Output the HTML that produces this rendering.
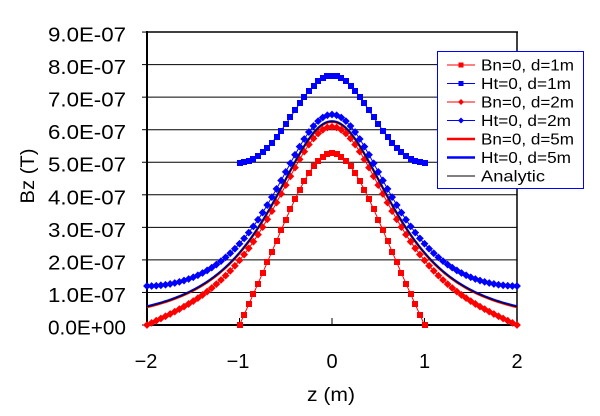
<!DOCTYPE html>
<html>
<head>
<meta charset="utf-8">
<style>
  html, body { margin: 0; padding: 0; background: #ffffff; }
  svg { display: block; }
  text { font-family: "Liberation Sans", "Noto Sans CJK JP", sans-serif; fill: #000; }
</style>
</head>
<body>
<svg id="chart" width="600" height="416" viewBox="0 0 600 416" xmlns="http://www.w3.org/2000/svg">
  <rect x="0" y="0" width="600" height="416" fill="#ffffff"/>

  <!-- gridlines -->
  <g stroke="#000" stroke-width="1">
    <line x1="147" y1="292.45" x2="517" y2="292.45"/>
    <line x1="147" y1="259.9" x2="517" y2="259.9"/>
    <line x1="147" y1="227.35" x2="517" y2="227.35"/>
    <line x1="147" y1="194.8" x2="517" y2="194.8"/>
    <line x1="147" y1="162.25" x2="517" y2="162.25"/>
    <line x1="147" y1="129.7" x2="517" y2="129.7"/>
    <line x1="147" y1="97.15" x2="517" y2="97.15"/>
    <line x1="147" y1="64.6" x2="517" y2="64.6"/>
  </g>

  <!-- plot frame -->
  <g stroke="#000" fill="none">
    <line x1="146" y1="32" x2="518" y2="32" stroke-width="1.5"/>
    <line x1="517" y1="32" x2="517" y2="325" stroke-width="1.5"/>
    <line x1="147" y1="31" x2="147" y2="326" stroke-width="2"/>
    <line x1="146" y1="325" x2="518" y2="325" stroke-width="2"/>
  </g>

  <!-- y ticks (outside left) -->
  <g stroke="#000" stroke-width="1">
    <line x1="142" y1="32.05" x2="147" y2="32.05"/>
    <line x1="142" y1="64.6" x2="147" y2="64.6"/>
    <line x1="142" y1="97.15" x2="147" y2="97.15"/>
    <line x1="142" y1="129.7" x2="147" y2="129.7"/>
    <line x1="142" y1="162.25" x2="147" y2="162.25"/>
    <line x1="142" y1="194.8" x2="147" y2="194.8"/>
    <line x1="142" y1="227.35" x2="147" y2="227.35"/>
    <line x1="142" y1="259.9" x2="147" y2="259.9"/>
    <line x1="142" y1="292.45" x2="147" y2="292.45"/>
    <line x1="142" y1="325" x2="147" y2="325"/>
  </g>
  <!-- x ticks (inside up) -->
  <g stroke="#000" stroke-width="1">
    <line x1="239.5" y1="318" x2="239.5" y2="325"/>
    <line x1="332" y1="318" x2="332" y2="325"/>
    <line x1="424.5" y1="318" x2="424.5" y2="325"/>
  </g>

  <!-- y tick labels -->
  <g font-size="20" text-anchor="end">
    <text x="126" y="41.5" textLength="78" lengthAdjust="spacingAndGlyphs">9.0E-07</text>
    <text x="126" y="74" textLength="78" lengthAdjust="spacingAndGlyphs">8.0E-07</text>
    <text x="126" y="106.6" textLength="78" lengthAdjust="spacingAndGlyphs">7.0E-07</text>
    <text x="126" y="139.2" textLength="78" lengthAdjust="spacingAndGlyphs">6.0E-07</text>
    <text x="126" y="171.7" textLength="78" lengthAdjust="spacingAndGlyphs">5.0E-07</text>
    <text x="126" y="204.3" textLength="78" lengthAdjust="spacingAndGlyphs">4.0E-07</text>
    <text x="126" y="236.8" textLength="78" lengthAdjust="spacingAndGlyphs">3.0E-07</text>
    <text x="126" y="269.4" textLength="78" lengthAdjust="spacingAndGlyphs">2.0E-07</text>
    <text x="126" y="302" textLength="78" lengthAdjust="spacingAndGlyphs">1.0E-07</text>
    <text x="126" y="334.5" textLength="78" lengthAdjust="spacingAndGlyphs">0.0E+00</text>
  </g>

  <!-- x tick labels -->
  <g font-size="20" text-anchor="middle">
    <text x="146" y="368">−2</text>
    <text x="238" y="368">−1</text>
    <text x="332" y="368">0</text>
    <text x="424.5" y="368">1</text>
    <text x="517" y="368">2</text>
  </g>

  <!-- axis titles -->
  <text x="331" y="401" font-size="19" text-anchor="middle" textLength="48" lengthAdjust="spacingAndGlyphs">z (m)</text>
  <text x="34" y="176" font-size="19" text-anchor="middle" textLength="55" lengthAdjust="spacingAndGlyphs" transform="rotate(-90 34 176)">Bz (T)</text>

  <!-- data series (generated) -->
  <g id="series"></g>

  <!-- legend -->
  <rect x="437.5" y="51.5" width="146" height="137" fill="#ffffff" stroke="#0000ff" stroke-width="1"/>
  <g>
    <line x1="447" y1="65" x2="475" y2="65" stroke="#ff0000" stroke-width="1"/>
    <rect x="458.5" y="62.5" width="5" height="5" fill="#ff0000" shape-rendering="crispEdges"/>
    <line x1="447" y1="83.5" x2="475" y2="83.5" stroke="#0000ff" stroke-width="1"/>
    <rect x="458.5" y="81" width="5" height="5" fill="#0000ff" shape-rendering="crispEdges"/>
    <line x1="447" y1="102" x2="475" y2="102" stroke="#ff0000" stroke-width="1"/>
    <polygon points="461,99 464,102 461,105 458,102" fill="#ff0000"/>
    <line x1="447" y1="120.5" x2="475" y2="120.5" stroke="#0000ff" stroke-width="1"/>
    <polygon points="461,117.5 464,120.5 461,123.5 458,120.5" fill="#0000ff"/>
    <line x1="447" y1="139" x2="475" y2="139" stroke="#ff0000" stroke-width="2.5"/>
    <line x1="447" y1="157.5" x2="475" y2="157.5" stroke="#0000ff" stroke-width="2.5"/>
    <line x1="447" y1="176" x2="475" y2="176" stroke="#000000" stroke-width="1"/>
  </g>
  <g font-size="16">
    <text x="481" y="70.7" textLength="93" lengthAdjust="spacingAndGlyphs">Bn=0, d=1m</text>
    <text x="481" y="89.2" textLength="90" lengthAdjust="spacingAndGlyphs">Ht=0, d=1m</text>
    <text x="481" y="107.7" textLength="93" lengthAdjust="spacingAndGlyphs">Bn=0, d=2m</text>
    <text x="481" y="126.2" textLength="90" lengthAdjust="spacingAndGlyphs">Ht=0, d=2m</text>
    <text x="481" y="144.7" textLength="93" lengthAdjust="spacingAndGlyphs">Bn=0, d=5m</text>
    <text x="481" y="163.2" textLength="90" lengthAdjust="spacingAndGlyphs">Ht=0, d=5m</text>
    <text x="481" y="181.7" textLength="64" lengthAdjust="spacingAndGlyphs">Analytic</text>
  </g>
</svg>
<script>
(function(){
  var B0 = 6.25, A2 = 1.0;
  function f(z){ return B0 / Math.pow(1 + z*z/A2, 1.5); }
  function S(z, d, alt){
    var s = 0;
    for (var k = -600; k <= 600; k++){
      var sg = (alt && (Math.abs(k) % 2 === 1)) ? -1 : 1;
      s += sg * f(z - 2*k*d);
    }
    return s;
  }
  function X(z){ return 332 + 92.5*z; }
  function Y(v){ return 325 - 32.55*v; }
  var ns = "http://www.w3.org/2000/svg";
  var g = document.getElementById('series');
  function pts(d, mode, z0, z1, step){
    var a = [], n = Math.round((z1 - z0)/step);
    for (var i = 0; i <= n; i++){
      var z = z0 + i*step;
      var v = (mode === 'a') ? f(z) : S(z, d, mode === 'bn');
      if (Math.abs(v) < 1e-6) v = 0;
      a.push([X(z), Y(v)]);
    }
    return a;
  }
  function line(p, color, w){
    var e = document.createElementNS(ns, 'polyline');
    e.setAttribute('points', p.map(function(q){ return q[0].toFixed(2) + ',' + q[1].toFixed(2); }).join(' '));
    e.setAttribute('fill', 'none');
    e.setAttribute('stroke', color);
    e.setAttribute('stroke-width', w);
    e.setAttribute('stroke-linejoin', 'round');
    g.appendChild(e);
  }
  function squares(p, color, s){
    p.forEach(function(q){
      var e = document.createElementNS(ns, 'rect');
      e.setAttribute('x', Math.round(q[0] - s/2));
      e.setAttribute('y', Math.round(q[1] - s/2));
      e.setAttribute('width', s);
      e.setAttribute('height', s);
      e.setAttribute('fill', color);
      e.setAttribute('shape-rendering', 'crispEdges');
      g.appendChild(e);
    });
  }
  function diamonds(p, color, h){
    p.forEach(function(q){
      var x = q[0], y = q[1];
      var e = document.createElementNS(ns, 'polygon');
      e.setAttribute('points', [x, y-h, x+h, y, x, y+h, x-h, y].map(function(t){return t.toFixed(2);}).join(' '));
      e.setAttribute('fill', color);
      g.appendChild(e);
    });
  }
  var RED = '#ff0000', BLUE = '#0000ff';
  var p1 = pts(1, 'bn', -1, 1, 0.05); line(p1, RED, 1); squares(p1, RED, 6);
  var p2 = pts(1, 'ht', -1, 1, 0.05); line(p2, BLUE, 1); squares(p2, BLUE, 6);
  var p3 = pts(2, 'bn', -2, 2, 0.05); line(p3, RED, 1); diamonds(p3, RED, 3.9);
  var p4 = pts(2, 'ht', -2, 2, 0.05); line(p4, BLUE, 1); diamonds(p4, BLUE, 3.9);
  var p5 = pts(5, 'bn', -2, 2, 0.02); line(p5, RED, 2);
  var p6 = pts(5, 'ht', -2, 2, 0.02); line(p6, BLUE, 2);
  var p7 = pts(0, 'a', -2, 2, 0.02); line(p7, '#000000', 1);
})();
</script>
</body>
</html>
